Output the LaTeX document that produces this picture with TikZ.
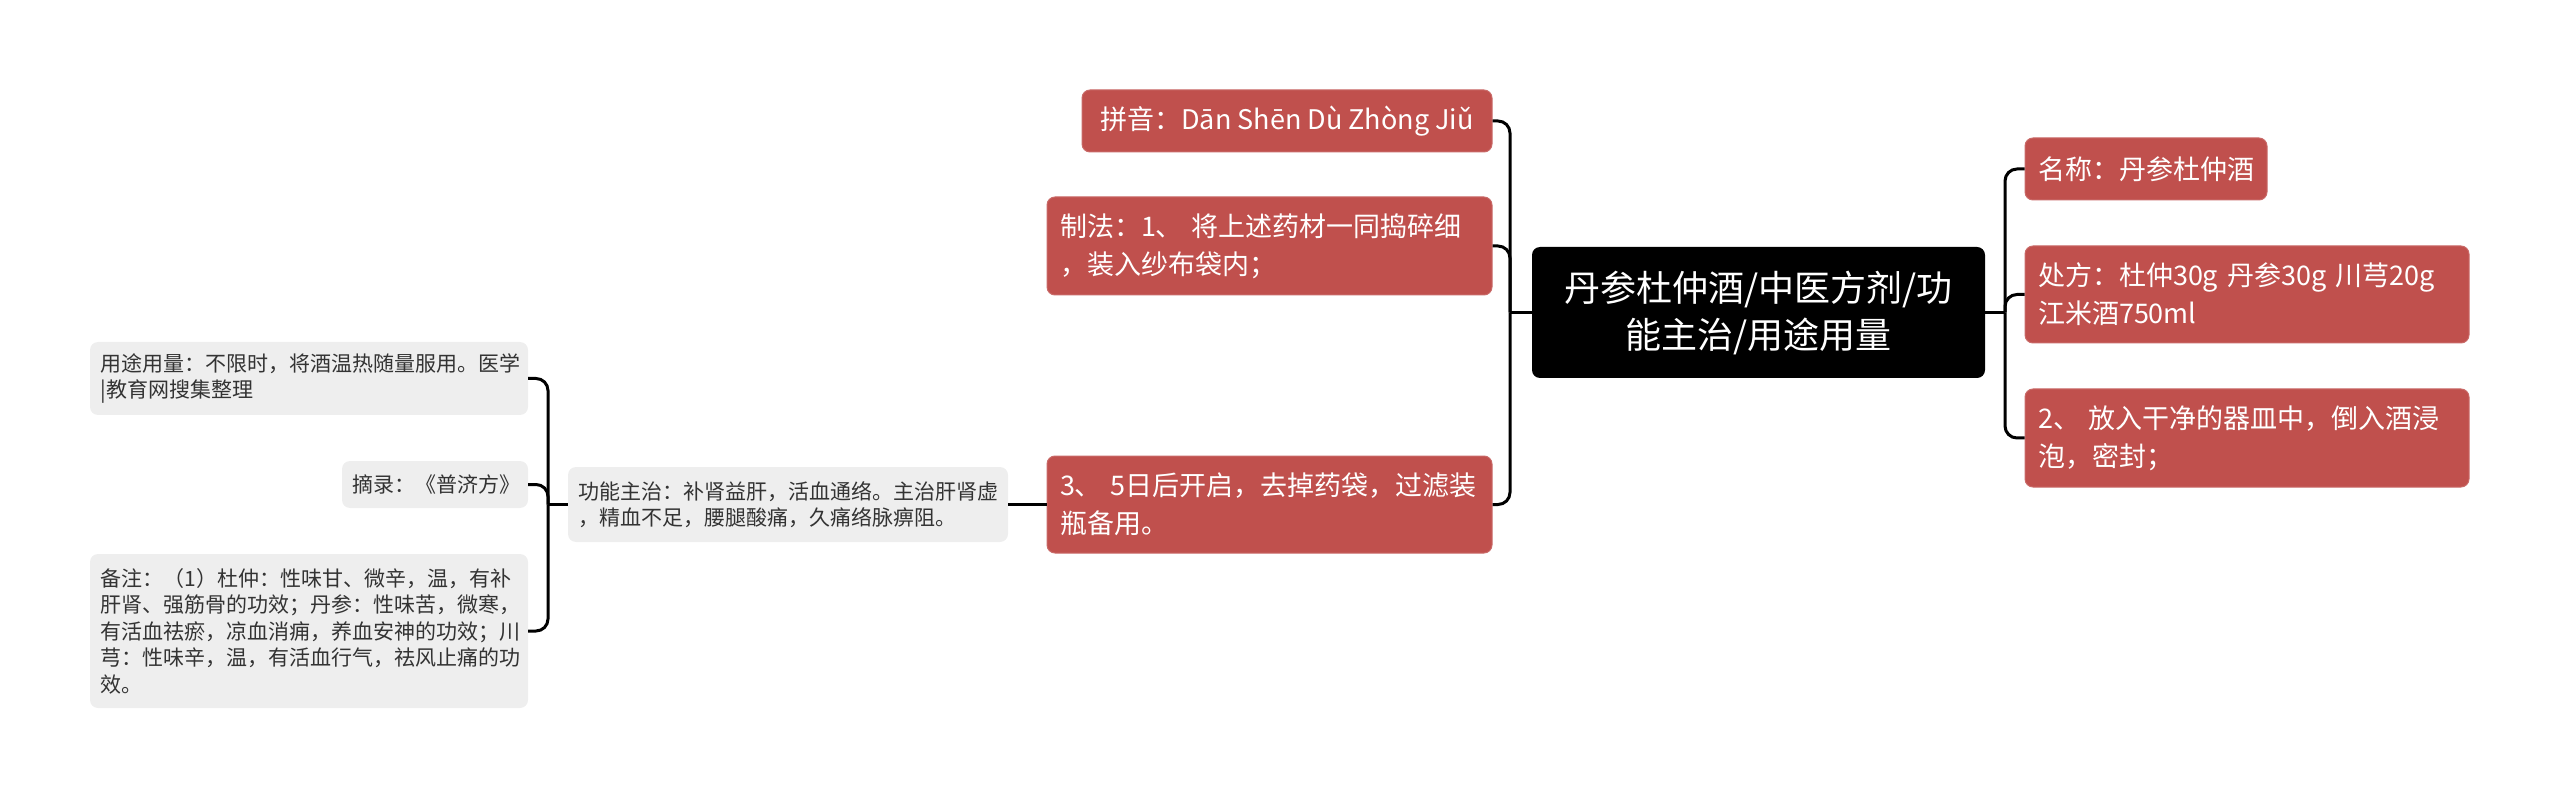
\documentclass[tikz,border=0pt]{standalone}
\usepackage{fontspec}
\setmainfont{Noto Sans CJK SC}
\definecolor{redfill}{HTML}{C0504D}
\definecolor{grayfill}{HTML}{EEEEEE}
\definecolor{graytext}{HTML}{333333}
\tikzset{
 box/.style={rounded corners=8pt, inner ysep=0pt, anchor=center},
 redbox/.style={box, fill=redfill, draw=redfill!85!white, line width=1pt, text=white, font=\fontsize{27}{38}\selectfont, align=left, inner xsep=13pt},
 graybox/.style={box, fill=grayfill, text=graytext, font=\fontsize{21}{26.5}\selectfont, align=left, inner xsep=10.5pt},
 rootbox/.style={box, fill=black, text=white, font=\fontsize{36}{47}\selectfont, align=center, inner xsep=10pt},
 conn/.style={line width=3pt, rounded corners=12pt},
}
\begin{document}
\begin{tikzpicture}[x=1pt,y=-1pt]
\useasboundingbox (0,0) rectangle (2560,799);
% root
\node[rootbox, text width=433pt, minimum height=131pt] (root) at (1758.5,312.5) {丹参杜仲酒/中医方剂/功\\能主治/用途用量};
% left red
\node[redbox, align=center, minimum width=410pt, minimum height=62pt] (py) at (1287,121) {拼音：Dān Shēn Dù Zhòng Jiǔ};
\node[redbox, text width=419pt, minimum height=98pt] (zf) at (1269.5,246) {制法：1、 将上述药材一同捣碎细\\，装入纱布袋内；};
\node[redbox, text width=419pt, minimum height=97pt] (s3) at (1269.5,504.5) {3、 5日后开启，去掉药袋，过滤装\\瓶备用。};
% right red
\node[redbox, text width=216pt, minimum height=62pt] (mc) at (2146,169) {名称：丹参杜仲酒};
\node[redbox, text width=418pt, minimum height=97pt] (cf) at (2247,294.5) {处方：杜仲30g 丹参30g 川芎20g\\江米酒750ml};
\node[redbox, text width=418pt, minimum height=98pt] (s2) at (2247,438) {2、 放入干净的器皿中，倒入酒浸\\泡，密封；};
% gray
\node[graybox, text width=419pt, minimum height=75pt] (gn) at (788,504.5) {功能主治：补肾益肝，活血通络。主治肝肾虚\\，精血不足，腰腿酸痛，久痛络脉痹阻。};
\node[graybox, text width=417pt, minimum height=73pt] (yt) at (309,378.5) {用途用量：不限时，将酒温热随量服用。医学\\|教育网搜集整理};
\node[graybox, text width=165pt, minimum height=47pt, align=center] (zl) at (435,484.5) {摘录：《普济方》};
\node[graybox, text width=417pt, minimum height=154pt] (bz) at (309,631) {备注：（1）杜仲：性味甘、微辛，温，有补\\肝肾、强筋骨的功效；丹参：性味苦，微寒，\\有活血祛瘀，凉血消痈，养血安神的功效；川\\芎：性味辛，温，有活血行气，祛风止痛的功\\效。};
% junctions
\coordinate (jL) at (1510,312.5);
\coordinate (jR) at (2005,312.5);
\coordinate (jF) at (548,504.5);
% connectors
\draw[conn] (root.west) -- (jL);
\draw[conn] (py.east) -| (jL);
\draw[conn] (zf.east) -| (jL);
\draw[conn] (s3.east) -| (jL);
\draw[conn] (root.east) -- (jR);
\draw[conn] (mc.west) -| (jR);
\draw[conn] (cf.west) -| (jR);
\draw[conn] (s2.west) -| (jR);
\draw[conn] (s3.west) -- (gn.east);
\draw[conn] (gn.west) -- (jF);
\draw[conn] (yt.east) -| (jF);
\draw[conn] (zl.east) -| (jF);
\draw[conn] (bz.east) -| (jF);
\end{tikzpicture}
\end{document}
